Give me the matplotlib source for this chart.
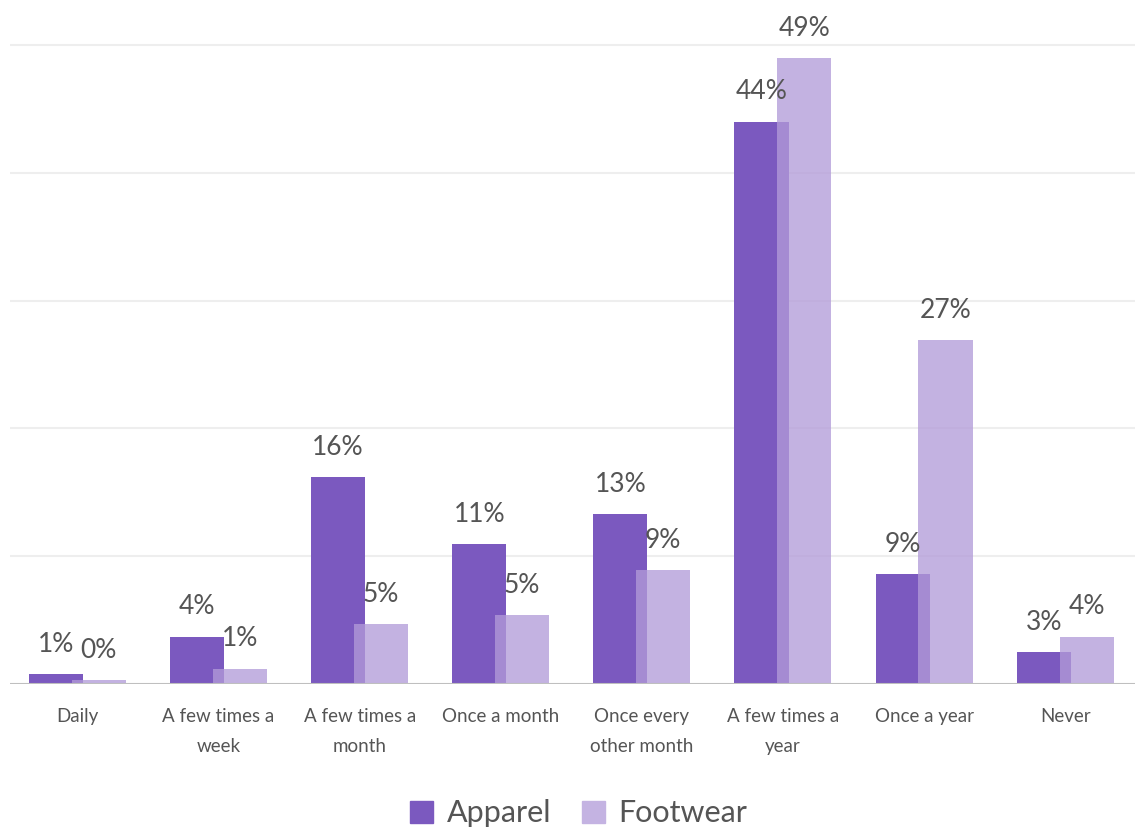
import matplotlib.pyplot as plt
from matplotlib.patches import Patch
import numpy as np

plt.rcParams['font.family'] = ['Lato', 'DejaVu Sans']

categories = ['Daily', 'A few times a\nweek', 'A few times a\nmonth', 'Once a month',
              'Once every\nother month', 'A few times a\nyear', 'Once a year', 'Never']
apparel = [0.8, 3.7, 16.2, 10.95, 13.3, 44.0, 8.6, 2.5]
footwear = [0.3, 1.2, 4.7, 5.4, 8.9, 49.0, 26.9, 3.7]
apparel_labels = ['1%', '4%', '16%', '11%', '13%', '44%', '9%', '3%']
footwear_labels = ['0%', '1%', '5%', '5%', '9%', '49%', '27%', '4%']

apparel_colour = '#7b59bf'
footwear_colour = '#b29bd9'
text_colour = '#555555'

fig = plt.figure(figsize=(11.35, 8.34), dpi=100)
ax = fig.add_axes([10 / 1135, 150 / 834, 1125 / 1135, 664.6 / 834])

x = np.arange(len(categories))
width = 0.383
offset = 0.152

ax.bar(x - offset, apparel, width, color=apparel_colour, zorder=2)
ax.bar(x + offset, footwear, width, color=footwear_colour, alpha=0.77, zorder=3)

for i in range(len(categories)):
    ax.annotate(apparel_labels[i], (x[i] - offset, apparel[i]), xytext=(0, 16),
                textcoords='offset points', ha='center', va='baseline',
                fontsize=19, color=text_colour, zorder=5)
    ax.annotate(footwear_labels[i], (x[i] + offset, footwear[i]), xytext=(0, 16),
                textcoords='offset points', ha='center', va='baseline',
                fontsize=19, color=text_colour, zorder=5)

for g in [10, 20, 30, 40, 50]:
    ax.axhline(g, color='#eeeeee', lw=1.5, zorder=0)
ax.axhline(0, color='#bfbfbf', lw=1.5, zorder=4)

ax.set_xlim(-0.478, 7.495)
ax.set_ylim(0, 52)
ax.set_yticks([])
ax.set_xticks(x)
ax.set_xticklabels(categories, fontsize=13.5, color=text_colour, linespacing=1.95)
ax.tick_params(axis='x', length=0, pad=17)
for s in ax.spines.values():
    s.set_visible(False)

handles = [Patch(color=apparel_colour), Patch(color='#c4b3e2')]
fig.legend(handles, ['Apparel', 'Footwear'], loc='lower center',
           bbox_to_anchor=(0.51, -0.025), ncol=2, frameon=False,
           prop={'size': 22}, labelcolor=text_colour,
           handlelength=0.75, handleheight=0.75, handletextpad=0.45,
           columnspacing=1.0)

fig.savefig('out.png', dpi=100)
